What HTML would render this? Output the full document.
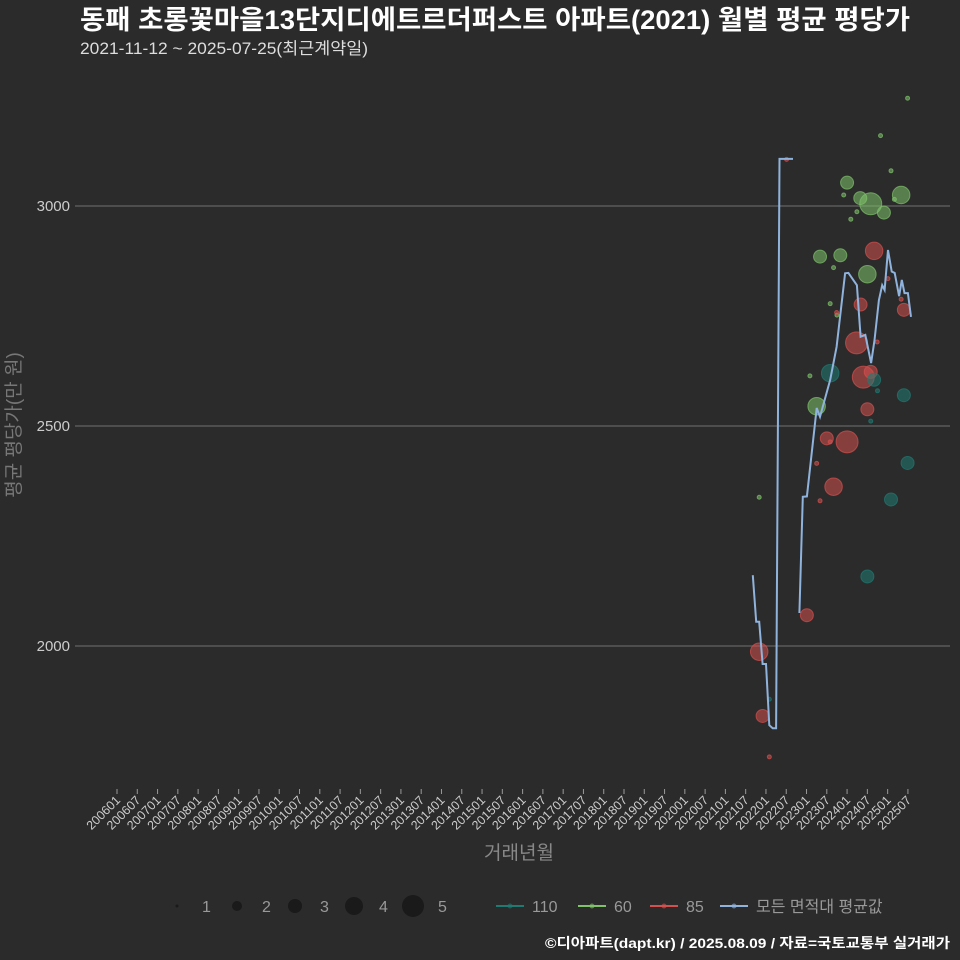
<!DOCTYPE html>
<html><head><meta charset="utf-8"><style>
body{margin:0;background:#2b2b2b;overflow:hidden;}
svg{display:block;}
svg text{font-family:"Liberation Sans","Noto Sans CJK KR",sans-serif;}
</style></head><body>
<svg id="c" width="960" height="960" xmlns="http://www.w3.org/2000/svg">
<rect width="960" height="960" fill="#2b2b2b"/>
<text x="80" y="29" fill="#ffffff" font-size="26.5" font-weight="bold" textLength="830" lengthAdjust="spacingAndGlyphs">동패 초롱꽃마을13단지디에트르더퍼스트 아파트(2021) 월별 평균 평당가</text>
<text x="80" y="54" fill="#dddddd" font-size="16.5" textLength="288" lengthAdjust="spacingAndGlyphs">2021-11-12 ~ 2025-07-25(최근계약일)</text>
<text transform="translate(20,425) rotate(-90)" text-anchor="middle" fill="#777" font-size="19">평균 평당가(만 원)</text>
<text x="519" y="859" text-anchor="middle" fill="#888" font-size="19">거래년월</text>
<g id="grid"></g><g id="xaxis"></g><g id="yaxis"></g><g id="bubbles"></g><g id="line"></g>
<g id="legend"></g>
<text x="950" y="948" text-anchor="end" fill="#ffffff" font-size="14" font-weight="bold" textLength="405" lengthAdjust="spacingAndGlyphs">©디아파트(dapt.kr) / 2025.08.09 / 자료=국토교통부 실거래가</text>
</svg>
<script>
// months since 2006-01
const yTicks=[2000,2500,3000];
const xTickLabels=[];for(let y=2006;y<=2025;y++){xTickLabels.push(y+"01");xTickLabels.push(y+"07");}
const lineMonths=[188.1,189.1,190,191,192,193,194,195,196,200,null,201.9,202.9,204.1,207,208,211,212.9,215.4,216.4,218.9,220,221.4,223.1,224.1,225.4,226.4,227.1,228.1,229.2,230.1,231.4,232.2,233,234,234.9];
const lineValues=[2161,2055,2055,1959,1959,1820,1813,1813,3107,3107,null,2075,2339,2340,2541,2521,2605,2680,2847,2848,2820,2703,2707,2643,2695,2786,2820,2809,2900,2851,2848,2795,2832,2802,2802,2748];
const g60Months=[233.9,225.9,229,216,215,219.9,223,232,230,218.9,226.9,217.1,208,214,212,222,211,213,205,207,190];
const g60Values=[3245,3160,3080,3053,3025,3018,3005,3025,3015,2987,2985,2970,2885,2888,2860,2845,2778,2752,2614,2545,2338];
const g60Sizes=[1,1,1,3,1,3,5,4,1,1,3,1,3,3,1,4,1,1,1,4,1];
const g85Months=[198.1,224,228.1,220,212.9,218.8,224.9,232,232.8,220.8,223,222,210,211,216,207,212,208,204.1,190,191,193];
const g85Values=[3106,2898,2835,2776,2758,2689,2691,2788,2764,2611,2623,2538,2472,2464,2464,2415,2362,2330,2070,1987,1841,1748];
const g85Sizes=[1,4,1,3,1,5,1,1,3,5,3,3,3,1,5,1,4,1,3,4,3,1];
const g110Months=[211,224,225,232.8,223,233.9,229,222,193];
const g110Values=[2620,2605,2580,2570,2511,2416,2333,2158,1879];
const g110Sizes=[4,3,1,3,1,3,3,3,1];
const sizeLegend=[1,2,3,4,5];

const NS="http://www.w3.org/2000/svg";
function mk(t,a,p){const e=document.createElementNS(NS,t);for(const k in a)e.setAttribute(k,a[k]);p.appendChild(e);return e;}
const X=m=>117+m*3.38;
const Y=v=>206+(3000-v)*0.44;
const R=s=>2+(s-1)*2.25;
const grid=document.getElementById('grid'),ya=document.getElementById('yaxis'),xa=document.getElementById('xaxis');
yTicks.forEach(v=>{
 const l=mk('line',{x1:75,x2:950,y1:Y(v),y2:Y(v),stroke:'#5a5a5a','stroke-width':1.5},grid);
 
 
 const t=mk('text',{x:70,y:Y(v)+5,'text-anchor':'end',fill:'#cccccc','font-size':15},ya);t.textContent=v;
 
 
});
xTickLabels.forEach((lab,i)=>{
 const x=X(i*6);
 const tk=mk('line',{x1:x,x2:x,y1:789,y2:794,stroke:'#999','stroke-width':1},xa);
 
 
 const t=mk('text',{transform:`translate(${x+4},${801}) rotate(-45)`,'text-anchor':'end',fill:'#cccccc','font-size':12.5},xa);t.textContent=lab;
 
 
});
const bg=document.getElementById('bubbles');
function drawGroup(ms,vs,ss,col,name){ms.forEach((m,i)=>{
 const c=mk('circle',{cx:X(m),cy:Y(vs[i]),r:R(ss[i]),fill:col,'fill-opacity':0.55,stroke:col,'stroke-opacity':0.7},bg);
 
 
});}
drawGroup(g60Months,g60Values,g60Sizes,'#7fc26b','60');
drawGroup(g85Months,g85Values,g85Sizes,'#d4504f','85');
drawGroup(g110Months,g110Values,g110Sizes,'#1f7a73','110');
let d='',pen=false;
lineMonths.forEach((m,i)=>{if(m===null){pen=false;return;}d+=(pen?'L':'M')+X(m).toFixed(1)+','+Y(lineValues[i]).toFixed(1);pen=true;});
const lp=mk('path',{d:d,fill:'none',stroke:'#8fb3dd','stroke-width':2},document.getElementById('line'));


const lg=document.getElementById('legend');
const sx=[177,237,295,354,413];
sizeLegend.forEach((s,i)=>{
 const c=mk('circle',{cx:sx[i],cy:906,r:[1.5,5,7,9,11][i],fill:'#1a1a1a'},lg);
 
 
 const t=mk('text',{x:sx[i]+25,y:912,fill:'#999','font-size':16},lg);t.textContent=s;
 
 
});
const items=[['110','#1f7a73',496],['60','#7fc26b',578],['85','#d4504f',650],['모든 면적대 평균값','#8fb3dd',720]];
items.forEach(([lab,col,x])=>{
 const l=mk('line',{x1:x,x2:x+28,y1:906,y2:906,stroke:col,'stroke-width':2},lg);
 
 
 mk('circle',{cx:x+14,cy:906,r:2.5,fill:col,'fill-opacity':0.6},lg);
 const t=mk('text',{x:x+36,y:912,fill:'#999','font-size':16},lg);t.textContent=lab;
 
 
});
</script>
</body></html>
